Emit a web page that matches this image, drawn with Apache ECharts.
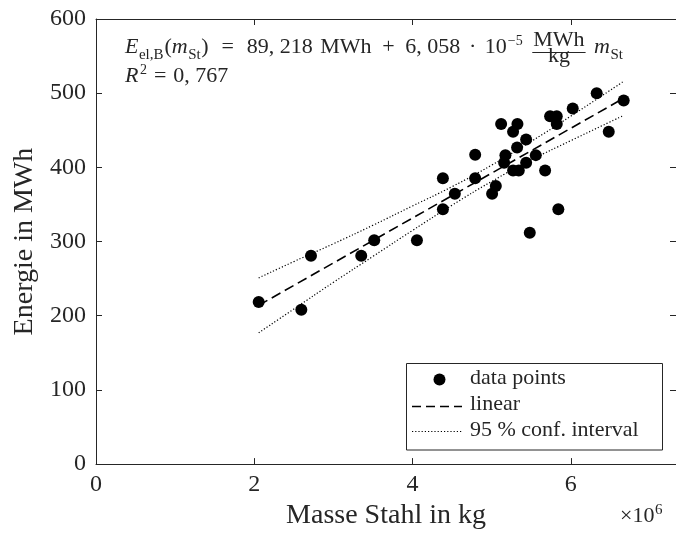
<!DOCTYPE html>
<html>
<head>
<meta charset="utf-8">
<script src="https://cdn.jsdelivr.net/npm/echarts@6/dist/echarts.min.js"></script>
<style>
html,body{margin:0;padding:0;background:#fff;}
#chart{width:676px;height:535px;}
</style>
</head>
<body>
<div id="chart"></div>
<script>
// Data (mass in 10^6 kg, energy in MWh)
const massX = [2.056, 2.595, 2.717, 3.352, 3.516, 4.056, 4.384, 4.384, 4.535, 4.792, 4.792, 5.006, 5.053, 5.120, 5.174, 5.158, 5.271, 5.326, 5.322, 5.271, 5.343, 5.436, 5.436, 5.482, 5.558, 5.676, 5.739, 5.823, 5.823, 5.843, 6.025, 6.328, 6.480, 6.669];
const energyY = [218.4, 208.0, 281.0, 281.0, 301.8, 301.8, 385.2, 343.5, 364.5, 416.9, 385.2, 364.5, 374.8, 458.6, 416.5, 406.2, 447.9, 458.6, 426.9, 395.9, 395.9, 437.6, 406.2, 312.0, 416.5, 395.9, 469.0, 469.0, 458.6, 343.5, 479.3, 499.9, 447.9, 490.1];
const fitX = [2.056, 6.669];
const fitY = [214.0, 493.2];
const ciX = [2.056, 2.5, 3.0, 3.5, 4.0, 4.5, 5.0, 5.5, 6.0, 6.669];
const ciUpper = [251, 273, 297, 322, 348, 374, 403, 435, 469, 516];
const ciLower = [177, 209, 245, 280, 315, 349, 381, 410, 436, 470];
const xTicks = [0, 2, 4, 6];
const yTicks = [0, 100, 200, 300, 400, 500, 600];

const FONT = '"Liberation Serif", "Times New Roman", serif';
const TXT = '#262626';
const zip = (a, b) => a.map((v, i) => [v, b[i]]);

const chart = echarts.init(document.getElementById('chart'), null, {renderer: 'canvas'});

const mctx = document.createElement('canvas').getContext('2d');
function fontStr(size, italic) { return (italic ? 'italic ' : '') + size + 'px ' + FONT; }
function measure(s, size, italic) { mctx.font = fontStr(size, italic); return mctx.measureText(s).width; }

function txt(x, baseline, s, size, italic, align) {
  return {
    type: 'text', x: x, y: baseline - 0.34 * size, z: 100,
    style: {text: s, fill: TXT, font: fontStr(size, italic),
            verticalAlign: 'middle', align: align || 'left'}
  };
}
// Sequential layout. piece: {t, s, it, dy, g (gap before, stretchable), frac:{num,den,w}}
function layout(x0, xEnd, baseline, pieces, out) {
  let natural = 0, gapSum = 0;
  pieces.forEach(p => {
    p.w = p.frac ? p.frac.w : measure(p.t, p.s, p.it);
    natural += p.w + (p.g || 0) + (p.k || 0);
    gapSum += (p.g || 0);
  });
  const scale = (xEnd && gapSum > 0) ? Math.max(1, (xEnd - x0 - natural + gapSum) / gapSum) : 1;
  let cx = x0;
  pieces.forEach(p => {
    cx += (p.g || 0) * scale + (p.k || 0);
    if (p.frac) {
      const c = cx + p.w / 2;
      out.push(txt(c, baseline - 7, p.frac.num, p.s, false, 'center'));
      out.push({type: 'line', z: 100, shape: {x1: cx + 1, y1: baseline - 2.5, x2: cx + p.w - 1, y2: baseline - 2.5},
                style: {stroke: TXT, lineWidth: 1}});
      out.push(txt(c, baseline + 9, p.frac.den, p.s, false, 'center'));
    } else {
      out.push(txt(cx, baseline + (p.dy || 0), p.t, p.s, p.it));
    }
    cx += p.w;
  });
  return cx;
}

const B1 = 55, B2 = 84, F = 22, FS = 15, FUP = 14;
const graphics = [];
const fracW = measure('MWh', F, false) + 4;
layout(125, 623, B1, [
  {t: 'E', s: F, it: true},
  {t: 'el,B', s: FS, dy: 5, k: 0.5},
  {t: '(', s: F, k: 1},
  {t: 'm', s: F, it: true},
  {t: 'St', s: FS, dy: 5, k: 0.5},
  {t: ')', s: F, k: 0.5},
  {t: '=', s: F, g: 6},
  {t: '89, 218', s: F, g: 6},
  {t: 'MWh', s: F, g: 3.5},
  {t: '+', s: F, g: 5},
  {t: '6, 058', s: F, g: 5},
  {t: '·', s: F, g: 4},
  {t: '10', s: F, g: 4},
  {t: '−5', s: FUP, dy: -9, k: 1},
  {frac: {num: 'MWh', den: 'kg', w: fracW}, s: F, g: 4},
  {t: 'm', s: F, it: true, g: 3.5},
  {t: 'St', s: FS, dy: 5, k: 0.5}
], graphics);
layout(125, null, B2, [
  {t: 'R', s: F, it: true},
  {t: '2', s: FUP, dy: -9, k: 1.5},
  {t: '=', s: F, g: 7},
  {t: '0, 767', s: F, g: 7}
], graphics);
// x10^6
layout(620, null, 524, [{t: '×10', s: 22}, {t: '6', s: 15, dy: -9, k: 0.5}], graphics);
// legend
graphics.push(
  {type: 'rect', z: 90, shape: {x: 406.5, y: 363.5, width: 256, height: 86.5},
   style: {fill: '#fff', stroke: TXT, lineWidth: 1}},
  {type: 'circle', z: 100, shape: {cx: 439.5, cy: 379.5, r: 6}, style: {fill: '#000'}},
  {type: 'line', z: 100, shape: {x1: 412, y1: 406.5, x2: 462, y2: 406.5},
   style: {stroke: '#000', lineWidth: 1.5, lineDash: [9, 5]}},
  {type: 'line', z: 100, shape: {x1: 412, y1: 431.5, x2: 463, y2: 431.5},
   style: {stroke: '#000', lineWidth: 1.2, lineDash: [1.2, 2]}},
  txt(470, 386, 'data points', 22, false),
  txt(470, 412, 'linear', 22, false),
  txt(470, 438, '95 % conf. interval', 22, false)
);

const axisCommon = {
  min: 0, type: 'value',
  axisLine: {show: true, onZero: false, lineStyle: {color: TXT, width: 1}},
  axisTick: {show: true, inside: true, length: 6, lineStyle: {color: TXT, width: 1}},
  splitLine: {show: false}
};

const option = {
  animation: false,
  backgroundColor: '#fff',
  grid: {left: 96, right: 0, top: 19, bottom: 69, containLabel: false},
  xAxis: [
    Object.assign({}, axisCommon, {
      position: 'bottom', max: 7.33, interval: 2,
      axisLabel: {show: true, margin: 9, color: TXT, fontFamily: FONT, fontSize: 24,
        showMaxLabel: false,
        formatter: v => (xTicks.indexOf(v) >= 0 ? String(v) : '')},
      name: 'Masse Stahl in kg', nameLocation: 'middle', nameGap: 24,
      nameTextStyle: {color: TXT, fontFamily: FONT, fontSize: 28}
    }),
    Object.assign({}, axisCommon, {
      position: 'top', max: 7.33, interval: 2, axisLabel: {show: false}
    })
  ],
  yAxis: [
    Object.assign({}, axisCommon, {
      position: 'left', max: 600, interval: 100,
      axisLabel: {show: true, margin: 10, color: TXT, fontFamily: FONT, fontSize: 24,
        formatter: v => (yTicks.indexOf(v) >= 0 ? String(v) : '')},
      name: 'Energie in MWh', nameLocation: 'middle', nameGap: 55, nameRotate: 90,
      nameTextStyle: {color: TXT, fontFamily: FONT, fontSize: 28}
    }),
    Object.assign({}, axisCommon, {
      position: 'right', max: 600, interval: 100, axisLabel: {show: false}
    })
  ],
  series: [
    {type: 'line', name: 'upper', data: zip(ciX, ciUpper), smooth: true, symbol: 'none',
     lineStyle: {color: '#000', width: 1.2, type: [1.2, 2]}, z: 2},
    {type: 'line', name: 'lower', data: zip(ciX, ciLower), smooth: true, symbol: 'none',
     lineStyle: {color: '#000', width: 1.2, type: [1.2, 2]}, z: 2},
    {type: 'line', name: 'linear', data: zip(fitX, fitY), symbol: 'none',
     lineStyle: {color: '#000', width: 1.6, type: [10, 5]}, z: 3},
    {type: 'scatter', name: 'data points', data: zip(massX, energyY), symbol: 'circle',
     symbolSize: 12, itemStyle: {color: '#000', opacity: 1}, z: 4}
  ],
  graphic: graphics
};
chart.setOption(option);
</script>
</body>
</html>
